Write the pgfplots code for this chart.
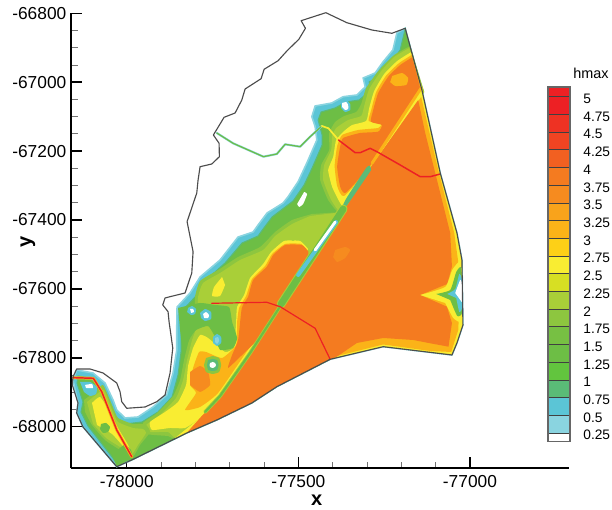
\documentclass[border=0pt]{standalone}
\usepackage{pgfplots}
\pgfplotsset{compat=1.18}
\usepackage{fontspec}
\setmainfont{Liberation Sans}
\definecolor{cB}{HTML}{8AD4E0}\definecolor{cC}{HTML}{5BC5D6}\definecolor{cT}{HTML}{5ABB77}
\definecolor{cG}{HTML}{6DBE45}\definecolor{cG2}{HTML}{8DC63F}\definecolor{cYG}{HTML}{A9CF38}
\definecolor{cL}{HTML}{D7DF23}\definecolor{cY}{HTML}{F9ED32}\definecolor{cA1}{HTML}{FDD017}
\definecolor{cA}{HTML}{FBB318}\definecolor{cA3}{HTML}{F68B1F}\definecolor{cO}{HTML}{F47B20}\definecolor{cR}{HTML}{ED2024}
\newcommand\poly[2]{\addplot[fill=#1,draw=none,smooth,tension=0.3] coordinates {#2} --cycle;}
\newcommand\lin[3]{\addplot[#1,line width=#2,line join=round,line cap=round] coordinates {#3};}
\newcommand\band[3]{\addplot[fill=#1,draw=none] coordinates {(0,#2)(1,#2)(1,#3)(0,#3)} --cycle;}
\begin{document}
\begin{tikzpicture}[x=1pt,y=1pt]
\useasboundingbox (0,0) rectangle (459,382.5);
\begin{axis}[
  at={(53.25pt,31.275pt)},anchor=south west,scale only axis,width=373.5pt,height=341.25pt,
  xmin=-78162.4,xmax=-76711.4,ymin=-68120.8,ymax=-66800,
  clip=false,
  x filter/.expression={-78000+(x-126.7)/0.343},
  y filter/.expression={-68000+(426.7-y)/0.3445},
  axis x line=bottom,axis y line=left,
  axis line style={-,line width=1.5pt,black},
  tick align=inside,
  major tick length=8.5pt,minor tick length=5pt,
  major tick style={black,line width=1.1pt},
  minor tick style={black!55,line width=0.6pt},
  xtick={-78000,-77500,-77000},ytick={-68000,-67800,-67600,-67400,-67200,-67000,-66800},
  minor x tick num=4,minor y tick num=3,
  scaled ticks=false,
  tick label style={font=\fontsize{13}{15}\selectfont},
  /pgf/number format/set thousands separator={},
  /pgf/number format/assume math mode=true,
  xticklabel style={yshift=-2pt},
  xlabel={\bfseries x},ylabel={\bfseries y},
  every axis x label/.style={at={(axis description cs:0.4934,0)},anchor=center,yshift=-23.8pt,font=\fontsize{15}{17}\selectfont},
  every axis y label/.style={at={(axis description cs:0,0.4974)},anchor=center,rotate=90,yshift=32.25pt,font=\fontsize{15}{17}\selectfont},
]
% wet area
\addplot[fill=cC,draw=cB,line width=1.2pt] coordinates {(405,28.3)(396.7,33)(392.7,50)(383,61.7)(375,73)(363,78)(365,87)(356.7,95)(343,96.7)(331.7,103)(315,106)(311.7,116.7)(315,126.7)(316.7,140)(306.7,163)(298,181.7)(288,196.7)(283,203)(267,213)(258,225)(253,232)(238,237)(220,260)(200,277)(190,293)(177,307)(176.7,326.7)(176.7,350)(173,373)(166.7,395)(153,407)(138,417)(125,418)(116.7,410)(113,400)(105,383)(93,373)(76.7,370)(73,380)(78,403)(76.7,413)(83,427)(116.7,466.7)(131.7,460)(186.7,433)(216.7,420)(251.7,403)(276.7,386.7)(330,359.3)(383,346.7)(451.7,355)(456.7,343)(462.7,325)(461.7,260)(456.7,233)(440,173)(421.7,90)} --cycle;
% green
\addplot[fill=cG,draw=cT,line width=0.8pt] coordinates {(405,29)(400,50)(390,64)(381,76)(369,82)(371,90)(359,100)(346,102)(335,108)(321,112)(318,120)(322,135)(322,145)(312,168)(304,185)(293,201)(272,217)(263,229)(258,236)(242,243)(225,263)(205,281)(195,297)(182,311)(181,330)(181,352)(178,375)(172,397)(158,412)(142,422)(125,424)(113,416)(108,402)(100,387)(90,378)(78,376)(77,383)(83,402)(81,412)(88,426)(116,462)(131.7,460)(186.7,433)(216.7,420)(251.7,403)(276.7,386.7)(330,359.3)(421.7,90)} --cycle;
% upper rim layers
\poly{cG2}{(410,46)(394,55)(379,70)(366,88)(361,104)(356,112)(344,116)(335,122)(329,133)(329,150)(321,165)(320,180)(328,200)(340,214)(350,200)(424,92)}
\poly{cYG}{(409,48)(394,57)(381,71)(369,89)(364,106)(361,116)(348,120)(336,128)(332,136)(331,150)(324,165)(323,180)(331,200)(340,212)(350,200)(424,92)}
\poly{cY}{(411,52)(397,61)(384,74)(374,91)(369,108)(366,121)(352,125)(344,131)(336,140)(333,157)(328,170)(332,187)(340,203)(345,206)(372,165)(422,90)}
\poly{cA}{(411.5,55)(399,63)(386,75.5)(376,92)(371,110)(368.5,121)(381,124)(378,128)(358,130)(342,135)(337,146)(334.5,166)(337,186)(344,196)(372,164)(421,89)}
\poly{cO}{(412,57.3)(400,65)(388,76.7)(378,93)(373,110)(370.7,121.7)(381.7,125)(378,131.7)(360,133)(343,138)(340,146.7)(337,166.7)(340,186.7)(345.7,192.7)(371.7,163)(420,88.3)}
\poly{cA}{(392,76)(402,73)(408,78)(406,85)(395,86)(390,82)}
% lower land
\poly{cG2}{(312,214)(292,220)(275,232)(260,247)(238,257)(218,270)(200,281)(195,297)(195,325)(189,340)(184,360)(180,380)(173,396)(157,413)(143,423)(147,434)(168,436)(175,438)(200,418)(220,396.7)(250,353)(280,306.7)(343,212)}
\poly{cYG}{(310,216)(292,224)(275,236)(263,250)(240,260)(220,273)(203,283)(198,297)(197,325)(192,340)(187,360)(183,380)(176,398)(160,415)(146,425)(150,432)(168,432)(175,438)(186.7,433)(200,418)(220,396.7)(250,353)(280,306.7)(343,212)}
\poly{cY}{(308,249)(300,241)(284,241)(271,252)(263,264)(250,278)(244,295)(237,307)(236,322)(234,347)(225,352)(208,338)(200,335)(193,348)(188,366)(186,385)(178,402)(165,412)(150,422)(152,430)(170,428)(185,428)(200,418)(220,396.7)(250,353)(280,306.7)}
\poly{cA}{(308,252)(301,244)(285,244)(272,254)(265,266)(252,279)(246,296)(239,308)(237,322)(236,345)(222,358)(206,352)(199,352)(193,368)(190,385)(196,393)(185,410)(200,407)(218,393)(245,354)(279,305)}
\poly{cO}{(308.3,251.7)(301.7,245)(285,245)(273,255)(266.7,266.7)(253,280)(248,296.7)(241.7,308)(238,340)(232,355)(228,368)(245,352)(257,340)(280,306)(308,258)}
\poly{cA3}{(190,372)(200,366)(208,372)(210,385)(200,392)(190,385)}
% yellow patches in green
\poly{cYG}{(300,223)(290,226)(287,235)(293,241)(301,234)}
\poly{cY}{(222,277)(214,287)(212,296)(220,296)(225,285)}
% green patches
\poly{cG}{(178,308)(200,303)(215,305)(229,307)(232,322)(237,338)(233,348)(220,350)(215,337)(208,326)(196,330)(190,338)(183,350)(180,330)}
% ponds
\poly{cC}{(188,308)(192,306)(196,309)(195,314)(191,315)(187,312)}
\poly{white}{(190,309)(193,309)(194,312)(191,313)}
\poly{cC}{(200,313)(205,309)(211,312)(211,319)(205,321)(201,318)}
\poly{white}{(203,314)(206,312)(209,315)(208,318)(204,318)}
\poly{cC}{(213,337)(217,334)(221,337)(221,343)(217,346)(213,343)}
\poly{cB}{(215,338)(218,337)(219,341)(217,344)(215,342)}
\poly{cG2}{(212.7,356)(219,358)(221,365)(219,372)(212.7,374)(206,372)(204,365)(206,358)}
\poly{cT}{(212.7,359)(217,360)(218.5,365)(217,370)(212.7,371)(208,370)(207,365)(208,360)}
\poly{white}{(212.7,362)(215,363)(216,365)(215,367)(212.7,368)(210,367)(209.5,365)(210,363)}
\poly{cC}{(341,101)(346,100)(350,104)(350,110)(345,112)(341,108)}
\poly{white}{(342,103)(346,102)(348,105)(348,109)(345,110)(342,107)}
\poly{white}{(304,192)(307,194)(303,204)(299,207)(297,204)}
% south-west peninsula
\poly{cG2}{(84,400)(95,392)(103,385)(112,405)(118,418)(133,424)(145,424)(150,432)(140,445)(132,458)(120,450)(105,440)(92,425)(85,412)}
\poly{cYG}{(87,402)(97,394)(104,390)(112,410)(118,422)(133,428)(143,429)(146,433)(138,445)(131,455)(120,447)(106,438)(93,424)}
\poly{cY}{(92,403)(100,397)(110,412)(118,428)(128,445)(132,456)(122,445)(112,434)(97,425)}
\poly{cG}{(101,424)(106,423)(110,427)(108,432)(103,433)(100,429)}
\poly{cG}{(112,455)(124,445)(131,450)(131.7,458)(116.7,466.7)}
\poly{cC}{(80,382)(90,382)(97,387)(96,394)(90,396)(84,392)}
\poly{white}{(85,385)(92,384)(93,388)(86,388)}
% east star and rims
\addplot[fill=cY,draw=none] coordinates {(421.7,90)(440,173)(456.7,233)(461.7,260)(462.7,325)(456.7,343)(451.7,355)(383,346.7)(330,359.3)(276.7,386.7)(251.7,403)(216.7,420)(186.7,433)(175,438)(200,418)(220,396.7)(250,353)(280,306.7)(343,212)(372,165)} --cycle;
\addplot[fill=cA,draw=none] coordinates {(421,97)(438,170)(454,233)(458,262)(459,280)(440,294)(459,308)(458,330)(451,352)(430,351)(383,344.5)(335,356.5)(330,359.3)(276.7,386.7)(251.7,403)(216.7,420)(186.7,433)(200,418)(220,396.7)(250,353)(280,306.7)(343,212)(372,165)} --cycle;
\addplot[fill=cO,draw=none] coordinates {(330,359.3)(276.7,386.7)(251.7,403)(216.7,420)(186.7,433)(200,418)(220,396.7)(250,353)(280,306.7)(343,212)(372,165)(418,100)(425,133)(436,177)(450,233)(451.7,266.7)(447,284)(420,295)(446.7,306.7)(451.7,323)(448.3,346.7)(430,343.3)(413,340)(383,338)(356.7,343)(336.7,356.7)} --cycle;
\poly{cA3}{(335,250)(345,247)(350,250)(345,258)(337,262)(333,257)}
\poly{cY}{(420,295)(445,287)(452,270)(460,262)(462,300)(461,322)(453,318)(445,303)}
\poly{cG}{(436,294)(450,290)(456,272)(461,268)(462,312)(457,316)(450,300)}
\poly{cC}{(447,294)(455,289)(459,274)(462,280)(462,308)(459,312)(456,298)}
\poly{white}{(455,293)(460,280)(462.3,285)(462.3,302)(460,300)}
% berm
\lin{cA}{2.2pt}{(421,88)(372,163)}
\poly{cT}{(370,165.7)(366,168)(347,197)(343,205)(347,205)(371,170)}
\lin{cYG}{6.5pt}{(343,209)(281,304)}
\lin{cG}{5pt}{(343,209)(281,304)}
\lin{cC}{3pt}{(336,222)(298,275)}
\lin{white}{2.1pt}{(335,222)(315,250)}
\lin{cYG}{2.8pt}{(279,308)(250,353)(220,396)(205,412)}
\lin{cG}{1.6pt}{(279,308)(250,353)(220,396)(205,412)}
% channels
\lin{cB}{1.6pt}{(216.7,133)(233,143.3)(263.3,156.7)(276.7,154)(285,144.3)(300,146.7)(310,136.7)(321.7,126)}
\lin{cG}{0.9pt}{(216.7,133)(233,143.3)(263.3,156.7)(276.7,154)(285,144.3)(300,146.7)(310,136.7)(321.7,126)}
\lin{cY}{1.3pt}{(321.7,126)(328.3,128.3)(338.3,140)}
\lin{cR}{1.1pt}{(338.3,140)(355,152.7)(360,152.7)(370,148.3)(376.7,151.7)(400,165)(420,176.7)(430,176.7)(440,174)}
\lin{cR}{0.9pt}{(211.7,303.3)(266.7,302.3)(280,306.7)(315,328.3)(330,359.3)}
\lin{cA}{2.2pt}{(73.3,377.7)(93.3,378.3)(101.7,391.7)(116.7,430)(131.7,456.7)}
\lin{cR}{1.1pt}{(73.3,377.7)(93.3,378.3)(101.7,391.7)(116.7,430)(131.7,456.7)}
% boundary
\addplot[color=black!70,line width=0.85pt,line join=round] coordinates {(325.7,12.7)(301,20.7)(305.3,28.3)(298.7,39.3)(287,50.7)(278,60.7)(264,69.3)(261,78.7)(245,89)(241.7,100)(235,113)(224,117.3)(213.3,135)(219,143.3)(219.3,156.7)(211.7,164)(200,166.7)(198,180)(196.7,193)(187,221.7)(193,251.7)(191.7,273)(185,293)(170,296.7)(165,298)(162.7,305)(168,311.7)(169,321.7)(172.7,348)(170,373)(165,395)(156.7,401.7)(145,407)(126.7,408.3)(121.7,401.7)(120,391.7)(116.7,383)(103,373)(90,369)(76.7,369)(73,376.7)(72.3,385)(78,403)(76.7,413)(83,427)(116.7,466.7)(131.7,460)(186.7,433)(216.7,420)(251.7,403)(276.7,386.7)(330,359.3)(383,346.7)(451.7,355)(456.7,343)(462.7,325)(461.7,260)(456.7,233)(440,173)(421.7,90)(405,28.3)(391.7,33.3)(371.7,30)(346.7,22.7)(325.7,12.7)};
\end{axis}
% colour bar
\begin{axis}[
  at={(411pt,51.225pt)},anchor=south west,scale only axis,width=16.5pt,height=266pt,
  xmin=0,xmax=1,ymin=0.1271,ymax=5.137,clip=false,
  xtick=\empty,
  ytick={0.25,0.5,0.75,1,1.25,1.5,1.75,2,2.25,2.5,2.75,3,3.25,3.5,3.75,4,4.25,4.5,4.75,5},
  yticklabels={0.25,0.5,0.75,1,1.25,1.5,1.75,2,2.25,2.5,2.75,3,3.25,3.5,3.75,4,4.25,4.5,4.75,5},
  yticklabel pos=right,
  major tick length=0pt,
  axis line style={black!60,line width=0.9pt},
  ymajorgrids,grid style={black!75,line width=0.55pt},
  yticklabel style={anchor=west,font=\fontsize{10.3}{12}\selectfont,xshift=6.5pt,yshift=-1.6pt},
  axis on top,
  title={hmax},
  every axis title/.style={at={(axis description cs:1.95,1)},anchor=center,yshift=10.5pt,font=\fontsize{10.8}{12}\selectfont},
]
\band{white}{0.1271}{0.25}
\band{cB}{0.25}{0.5}
\band{cC}{0.5}{0.75}
\band{cT}{0.75}{1}
\band{cG!90!green}{1}{1.25}
\band{cG}{1.25}{1.5}
\band{cG!70!cG2}{1.5}{1.75}
\band{cG2}{1.75}{2}
\band{cYG}{2}{2.25}
\band{cL}{2.25}{2.5}
\band{cY}{2.5}{2.75}
\band{cA1}{2.75}{3}
\band{cA}{3}{3.25}
\band{cA!60!cA3}{3.25}{3.5}
\band{cA3}{3.5}{3.75}
\band{cO}{3.75}{4}
\band{cO!70!cR}{4}{4.25}
\band{cO!40!cR}{4.25}{4.5}
\band{cO!20!cR}{4.5}{4.75}
\band{cR}{4.75}{5}
\band{cR}{5}{5.137}
\end{axis}
\end{tikzpicture}
\end{document}
